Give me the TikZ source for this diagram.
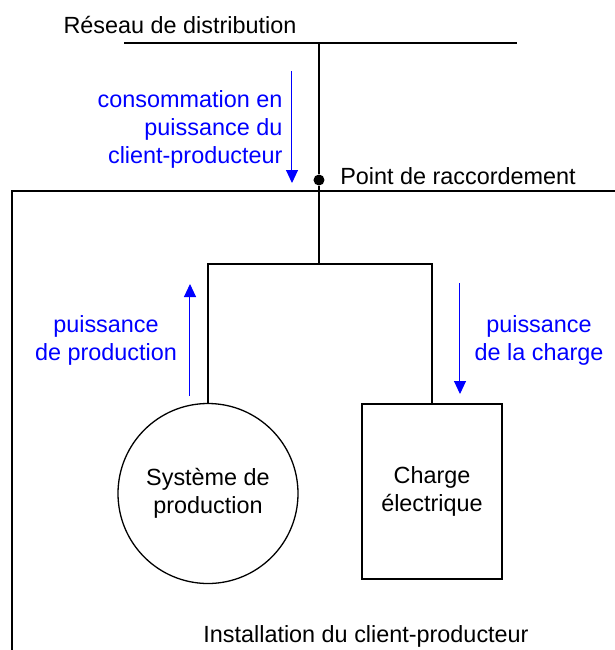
\documentclass[tikz,border=0pt]{standalone}
\usepackage{fontspec}
\setmainfont{Liberation Sans}
\usetikzlibrary{arrows.meta}

\begin{document}
\begin{tikzpicture}[x=0.5pt,y=-0.5pt,line width=0.65pt,
  every node/.style={font=\fontsize{11.7}{14}\selectfont},
  flow/.style={blue,line width=0.5pt,-{Triangle[length=6.5pt,width=6pt]}},
  flowtext/.style={blue,align=center,inner sep=0pt}]
\useasboundingbox (0,0) rectangle (615,650);
%grid
\node (reseau) at (180,25) {R\'eseau de distribution};
\coordinate (gridL) at (124,43);
\coordinate (gridR) at (517,43);
\coordinate (gridT) at (319,43);
\draw (gridL) -- (gridR);
%connection point
\node[circle,fill,inner sep=0pt,minimum size=5.5pt] (pcc) at (319,180) {};
\node[anchor=west] (pcclabel) at (333,176) {Point de raccordement};
%installation
\draw (615,191) -| (12,650);
\node (install) at (366,636) {Installation du client-producteur};
\coordinate (jn) at (319,264);
\coordinate (jnL) at (208,264);
\coordinate (jnR) at (432,264);
\draw (gridT) -- (pcc) -- (jn);
\node[circle,draw,minimum size=90pt,align=center,inner sep=0pt] (prod) at (208,493.5) {Syst\`eme de\\production};
\node[draw,minimum width=70pt,minimum height=87.5pt,align=center] (charge) at (432,491.5) {Charge\\\'electrique};
\draw (prod.north) -- (jnL) -- (jnR) -- (charge.north);
%power flows
\coordinate (consA) at (292,71);
\coordinate (consB) at (292,183);
\draw[flow] (consA) -- (consB);
\node[flowtext,align=right,anchor=east] (constext) at (283,129) {consommation en\\puissance du\\client-producteur};
\coordinate (prodA) at (190,396);
\coordinate (prodB) at (190,284);
\draw[flow] (prodA) -- (prodB);
\node[flowtext] (prodtext) at (106,340) {puissance\\de production};
\coordinate (chargeA) at (460,283);
\coordinate (chargeB) at (460,394);
\draw[flow] (chargeA) -- (chargeB);
\node[flowtext] (chargetext) at (539,340) {puissance\\de la charge};
\end{tikzpicture}
\end{document}
